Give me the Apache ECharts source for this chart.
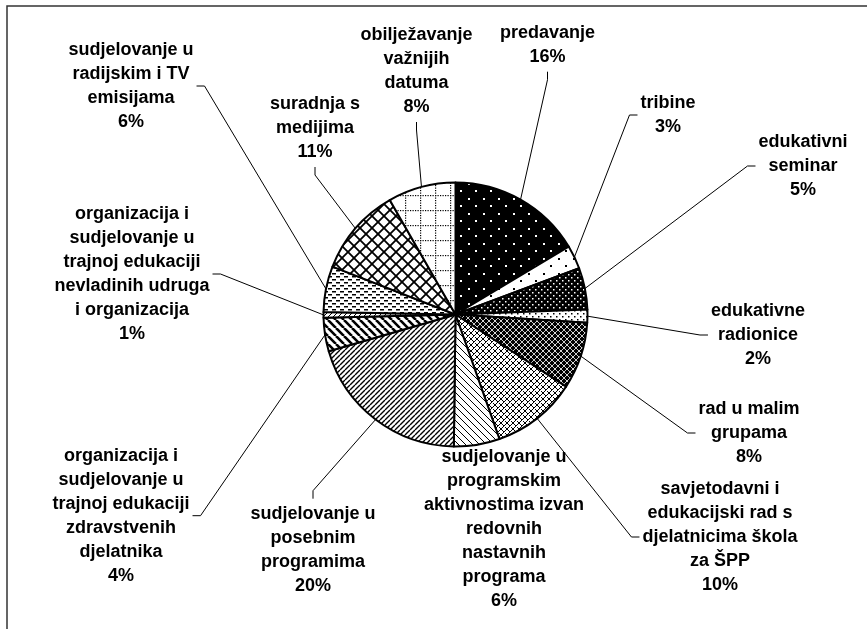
<!DOCTYPE html>
<html>
<head>
<meta charset="utf-8">
<style>
  html, body { margin: 0; padding: 0; background: #fff; }
  #chart { width: 867px; height: 629px; }
</style>
<script src="https://cdn.jsdelivr.net/npm/echarts@6/dist/echarts.min.js"></script>
</head>
<body>
<div id="chart"></div>
<script>
// ---- data ----
const categories = [
  'predavanje',
  'tribine',
  'edukativni\nseminar',
  'edukativne\nradionice',
  'rad u malim\ngrupama',
  'savjetodavni i\nedukacijski rad s\ndjelatnicima škola\nza ŠPP',
  'sudjelovanje u\nprogramskim\naktivnostima izvan\nredovnih\nnastavnih\nprograma',
  'sudjelovanje u\nposebnim\nprogramima',
  'organizacija i\nsudjelovanje u\ntrajnoj edukaciji\nzdravstvenih\ndjelatnika',
  'organizacija i\nsudjelovanje u\ntrajnoj edukaciji\nnevladinih udruga\ni organizacija',
  'sudjelovanje u\nradijskim i TV\nemisijama',
  'suradnja s\nmedijima',
  'obilježavanje\nvažnijih\ndatuma'
];
const shares = [16.4, 2.9, 5.1, 1.6, 8.2, 10.4, 5.6, 20.3, 4.1, 0.7, 5.6, 10.8, 8.3];

// ---- layout (label block centres, leader line side) ----
const labelCenters = [
  [547.5, 44.7], [668, 115], [803, 166], [758, 335], [749, 433], [720, 537],
  [504, 528.7], [313, 549.7], [121, 515.7], [132, 274], [131, 86], [315, 128], [416.5, 71]
];
const leaderSide = ['bottom', 'left', 'left', 'left', 'left', 'left', 'none', 'top', 'right', 'right', 'right', 'bottom', 'bottom'];

// ---- pattern fills ----
function pat(w, h, bg, draw) {
  const c = document.createElement('canvas');
  c.width = w; c.height = h;
  const g = c.getContext('2d');
  g.fillStyle = bg; g.fillRect(0, 0, w, h);
  g.fillStyle = '#000'; g.strokeStyle = '#000';
  draw(g, w, h);
  return { image: c, repeat: 'repeat' };
}
function diag(g, s, dir, lw, color) {
  g.strokeStyle = color || '#000';
  g.lineWidth = lw;
  g.beginPath();
  for (let k = -s; k <= s; k += s) {
    if (dir === '\\') { g.moveTo(k, 0); g.lineTo(k + s, s); }
    else { g.moveTo(k, s); g.lineTo(k + s, 0); }
  }
  g.stroke();
}
const patterns = [
  pat(15, 15, '#000', g => { g.fillStyle = '#fff'; g.fillRect(3, 3, 2, 2); g.fillRect(10, 10, 2, 2); }),
  pat(15, 15, '#fff', g => { g.fillRect(3, 3, 2, 2); g.fillRect(10, 10, 2, 2); }),
  pat(6, 6, '#000', g => { g.fillStyle = '#fff'; g.fillRect(1, 1, 1.5, 1.5); g.fillRect(4, 4, 1.5, 1.5); }),
  pat(6, 6, '#fff', g => { g.fillRect(1, 1, 1.5, 1.5); g.fillRect(4, 4, 1.5, 1.5); }),
  pat(6, 6, '#000', g => { diag(g, 6, '\\', 0.8, '#fff'); diag(g, 6, '/', 0.8, '#fff'); g.fillStyle = '#fff'; g.fillRect(2.5, 2.5, 1, 1); }),
  pat(6, 6, '#fff', g => { diag(g, 6, '\\', 1); diag(g, 6, '/', 1); g.fillStyle = '#fff'; g.fillRect(0, 0, 1, 1); }),
  pat(7, 7, '#fff', g => diag(g, 7, '\\', 1)),
  pat(5, 5, '#fff', g => diag(g, 5, '/', 1.4)),
  pat(8, 8, '#fff', g => diag(g, 8, '\\', 2.6)),
  pat(5, 5, '#fff', g => diag(g, 5, '/', 1)),
  pat(8, 6, '#fff', g => { g.fillRect(0, 0, 4, 1.5); g.fillRect(4, 3, 4, 1.5); }),
  pat(12, 12, '#fff', g => { diag(g, 12, '\\', 1.8); diag(g, 12, '/', 1.8); }),
  pat(15, 15, '#fff', g => {
    for (let i = 0; i < 15; i += 2.5) { g.fillRect(i, 0, 1.2, 1.2); g.fillRect(0, i, 1.2, 1.2); }
  })
];

const data = categories.map((name, i) => {
  const item = { name: name, value: shares[i], itemStyle: { color: patterns[i] } };
  if (leaderSide[i] === 'none') item.labelLine = { show: false };
  return item;
});

const chart = echarts.init(document.getElementById('chart'), null, { renderer: 'canvas' });
chart.setOption({
  backgroundColor: '#fff',
  animation: false,
  graphic: [{
    type: 'rect',
    shape: { x: 7, y: 6, width: 920, height: 700 },
    style: { fill: 'none', stroke: '#333', lineWidth: 1.5 },
    silent: true
  }],
  series: [{
    type: 'pie',
    center: [455.5, 314.5],
    radius: 132,
    startAngle: 90,
    clockwise: true,
    avoidLabelOverlap: false,
    emphasis: { disabled: true },
    itemStyle: { borderColor: '#000', borderWidth: 2 },
    label: {
      show: true,
      position: 'outside',
      color: '#000',
      fontFamily: '"Liberation Sans", Arial, sans-serif',
      fontWeight: 'bold',
      fontSize: 18,
      lineHeight: 24,
      align: 'center',
      formatter: p => p.name + '\n' + Math.round(p.percent) + '%'
    },
    labelLine: { show: true, length: 10, length2: 10, lineStyle: { color: '#000', width: 1 } },
    labelLayout: function (p) {
      const i = p.dataIndex;
      const cx = labelCenters[i][0], cy = labelCenters[i][1];
      const w = p.labelRect.width, h = p.labelRect.height;
      const res = { x: cx, y: cy, align: 'center', verticalAlign: 'middle' };
      const side = leaderSide[i];
      const gap = 3, L = 8;
      if (side !== 'none' && p.labelLinePoints) {
        const a = p.labelLinePoints[0];
        let e, t;
        if (side === 'left') { e = [cx - w / 2 - gap, cy]; t = [e[0] - L, cy]; }
        else if (side === 'right') { e = [cx + w / 2 + gap, cy]; t = [e[0] + L, cy]; }
        else if (side === 'bottom') { e = [cx, cy + h / 2 + gap]; t = [cx, e[1] + L]; }
        else { e = [cx, cy - h / 2 - gap]; t = [cx, e[1] - L]; }
        res.labelLinePoints = [a, t, e];
      }
      return res;
    },
    data: data
  }]
});
</script>
</body>
</html>
